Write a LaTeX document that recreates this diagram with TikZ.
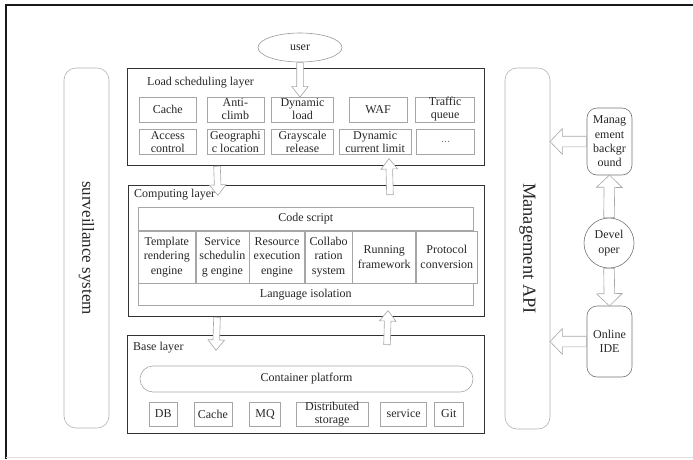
\documentclass[tikz,border=0pt]{standalone}
\usepackage{fontspec}
\setmainfont{Liberation Serif}
\usetikzlibrary{positioning, shapes.geometric, shapes.arrows, calc}

\begin{document}
\begin{tikzpicture}[
x=1pt, y=-1pt,
font=\fontsize{12}{13}\selectfont,
layer/.style={draw=black!80, line width=0.9pt, anchor=north west, inner sep=0pt},
title/.style={anchor=west, inner sep=0pt, text=black!85},
unit/.style={draw=black!35, line width=0.6pt, align=center, inner sep=0pt, minimum height=25pt, text=black!85},
cell/.style={draw=black!35, line width=0.6pt, align=center, inner sep=0pt, anchor=north west, text=black!85, font=\fontsize{12}{14.5}\selectfont},
platform/.style={draw=black!35, line width=0.6pt, rounded corners=13pt, inner sep=0pt, text=black!85},
pill/.style={draw=black!30, line width=0.6pt, rounded corners=12pt, inner sep=0pt, rotate=-90, text=black!85},
side/.style={draw=black!55, line width=0.6pt, rounded corners=10pt, align=center, inner sep=0pt, minimum width=45pt, text=black!85, font=\fontsize{12}{14.3}\selectfont},
tipsmall/.style={inner sep=3pt, single arrow head extend=5pt, single arrow tip angle=77},
tipbig/.style={inner sep=5pt, single arrow head extend=7.5pt, single arrow tip angle=92},
hollow/.style={to path={let \p1=($(\tikztotarget)-(\tikztostart)$), \n1={veclen(\x1,\y1)}, \n2={atan2(\y1,\x1)} in node[single arrow, draw=black!35, fill=white, line width=0.6pt, #1, minimum height=\n1, rotate=\n2, anchor=tail] at (\tikztostart) {}}},
hollow/.default=tipsmall
]

\useasboundingbox (0,0) rectangle (693,459);
\draw[line width=1.6pt, black!90] (693,5) -- (6,5) -- (6,459);
\draw[black!12, line width=0.8pt] (6,457) -- (693,457);

\node[pill, minimum width=360pt, minimum height=45pt, font=\fontsize{17}{17}\selectfont] (surv) at (86.5,248) {surveillance system};
\node[pill, minimum width=361pt, minimum height=45pt, font=\fontsize{18.5}{18.5}\selectfont] (api) at (527.5,248.5) {Management API};

\node[layer, minimum width=357pt, minimum height=97pt] (load) at (127,68) {};
\node[title] (loadt) at (147,83) {Load scheduling layer};
\node[draw=black!40, line width=0.6pt, ellipse, minimum width=84pt, minimum height=29pt, inner sep=0pt, text=black!85] (user) at (300,47.5) {user};

\node[unit, minimum width=57pt, anchor=west] (cache) at (139,109.5) {Cache};
\node[unit, minimum width=57pt, right=10pt of cache] (anticlimb) {Anti-\\climb};
\node[unit, minimum width=62pt, right=7pt of anticlimb] (dynload) {Dynamic\\load};
\node[unit, minimum width=58pt, right=15pt of dynload] (waf) {WAF};
\node[unit, minimum width=59pt, right=8pt of waf] (queue) {Traffic\\queue};

\node[unit, minimum width=57pt, anchor=west] (access) at (139,142) {Access\\control};
\node[unit, minimum width=57pt, right=10pt of access] (geo) {Geographi\\c location};
\node[unit, minimum width=62pt, right=7pt of geo] (gray) {Grayscale\\release};
\node[unit, minimum width=72pt, right=5pt of gray] (limit) {Dynamic\\current limit};
\node[unit, minimum width=58pt, right=5pt of limit, text=black!50] (more) {...};

\node[layer, minimum width=356pt, minimum height=131pt] (comp) at (128,185) {};
\node[title] (compt) at (134,195) {Computing layer};
\node[cell, minimum width=335pt, minimum height=23pt] (code) at (138,207) {Code script};
\node[cell, minimum width=57pt, minimum height=52pt] (tre) at (code.south west) {Template\\rendering\\engine};
\node[cell, minimum width=53pt, minimum height=52pt, right=0pt of tre] (sse) {Service\\schedulin\\g engine};
\node[cell, minimum width=55pt, minimum height=52pt, right=0pt of sse] (ree) {Resource\\execution\\engine};
\node[cell, minimum width=47pt, minimum height=52pt, right=0pt of ree] (collab) {Collabo\\ration\\system};
\node[cell, minimum width=63pt, minimum height=52pt, right=0pt of collab] (running) {Running\\framework};
\node[cell, minimum width=61pt, minimum height=52pt, right=0pt of running] (proto) {Protocol\\conversion};
\node[cell, minimum width=335pt, minimum height=22pt] (lang) at (tre.south west) {Language isolation};

\node[layer, minimum width=357pt, minimum height=98pt] (base) at (127,335) {};
\node[title] (baset) at (133,348) {Base layer};
\node[platform, minimum width=333pt, minimum height=26pt] (container) at (306.5,379) {Container platform};

\node[unit, minimum width=28pt, minimum height=24pt, anchor=west] (db) at (149,414) {DB};
\node[unit, minimum width=38pt, minimum height=24pt, right=16pt of db] (bcache) {Cache};
\node[unit, minimum width=31pt, minimum height=24pt, right=17pt of bcache] (mq) {MQ};
\node[unit, minimum width=72pt, minimum height=24pt, right=15pt of mq] (storage) {Distributed\\storage};
\node[unit, minimum width=46pt, minimum height=24pt, right=12pt of storage] (service) {service};
\node[unit, minimum width=29pt, minimum height=24pt, right=7pt of service] (git) {Git};

\node[side, minimum height=67pt] (mgmt) at (609.5,141.5) {Manag\\ement\\backgr\\ound};
\node[side, circle, rounded corners=0pt, minimum size=50pt] (dev) at (609,243) {Devel\\oper};
\node[side, minimum height=71pt] (ide) at (609.5,341.5) {Online\\IDE};

\draw[hollow] (user.south) to (user.south |- dynload.north);
\draw[hollow] ([xshift=90pt]load.south west) to ([xshift=90pt, yshift=-10pt]comp.north west);
\draw[hollow] ([xshift=262pt, yshift=-10pt]comp.north west) to ([xshift=262pt, yshift=7pt]load.south west);
\draw[hollow] ([xshift=89pt]comp.south west) to ([xshift=89pt, yshift=-15pt]base.north west);
\draw[hollow] ([xshift=260pt, yshift=-10pt]base.north west) to ([xshift=260pt, yshift=6pt]comp.south west);
\draw[hollow=tipbig] (dev.north) to (mgmt.south);
\draw[hollow=tipbig] (dev.south) to (ide.north);
\draw[hollow=tipbig] (mgmt.west) to (mgmt.west -| api.north);
\draw[hollow=tipbig] (ide.west) to (ide.west -| api.north);

\end{tikzpicture}
\end{document}
